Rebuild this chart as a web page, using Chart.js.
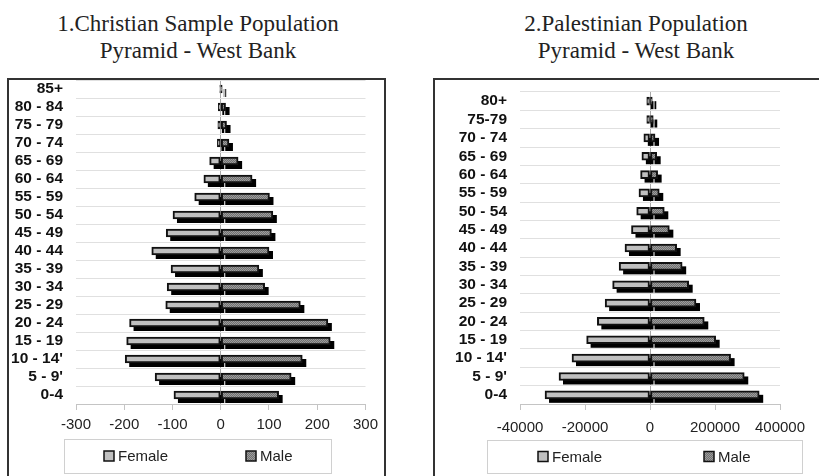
<!DOCTYPE html>
<html>
<head>
<meta charset="utf-8">
<script src="https://cdn.jsdelivr.net/npm/chart.js@4.4.0/dist/chart.umd.min.js"></script>
<style>
body { margin: 0; background: #fff; }
#page { position: relative; width: 819px; height: 476px; overflow: hidden; }
.title { position: absolute; top: 10px; width: 400px; text-align: center; font: 23px/27px "Liberation Serif", serif; color: #222; }
.box { position: absolute; top: 78px; height: 420px; border: 2px solid #333; }
canvas { position: absolute; }
</style>
</head>
<body>
<div id="page">
  <div class="title" style="left:-2px">1.Christian Sample Population<br>Pyramid - West Bank</div>
  <div class="title" style="left:436px">2.Palestinian Population<br>Pyramid - West Bank</div>
  <div class="box" style="left:7px; width:375px"></div>
  <div class="box" style="left:433px; width:420px"></div>
  <canvas id="chart1" width="375" height="396" style="left:9px; top:80px"></canvas>
  <canvas id="chart2" width="384" height="396" style="left:435px; top:80px"></canvas>
</div>
<script>
// Christian sample, counts per age group (top row = oldest)
const ageGroups1 = ['85+', '80 - 84', '75 - 79', '70 - 74', '65 - 69', '60 - 64', '55 - 59', '50 - 54', '45 - 49',
    '40 - 44', '35 - 39', '30 - 34', '25 - 29', '20 - 24', '15 - 19', "10 - 14'", "5 - 9'", '0-4'];
const female1 = [2, 5, 6, 7, 23, 35, 54, 99, 113, 143, 103, 111, 114, 189, 195, 198, 136, 97];
const male1 = [3, 10, 12, 17, 36, 65, 101, 108, 105, 100, 79, 91, 165, 222, 227, 169, 146, 120];

// Palestinian population, West Bank
const ageGroups2 = ['80+', '75-79', '70 - 74', '65 - 69', '60 - 64', '55 - 59', '50 - 54', '45 - 49', '40 - 44',
    '35 - 39', '30 - 34', '25 - 29', '20 - 24', '15 - 19', "10 - 14'", "5 - 9'", '0-4'];
const female2 = [10000, 10000, 19000, 25000, 29000, 34000, 41000, 57000, 77000, 95000, 115000, 138000, 162000, 195000, 240000, 280000, 323000];
const male2 = [7000, 10000, 15500, 20500, 23500, 28500, 44000, 59500, 82000, 99000, 119000, 141500, 167000, 202000, 248000, 290000, 336000];

// the second chart's axis was labelled this way in the source
const xTickLabels2 = ['-40000', '-20000', '0', '200000', '400000'];

const FEMALE_FILL = '#c0c0c0';

function makeHatch(ctx) {
    const c = document.createElement('canvas');
    c.width = 2;
    c.height = 2;
    const g = c.getContext('2d');
    g.fillStyle = '#9c9c9c';
    g.fillRect(0, 0, 2, 2);
    g.fillStyle = '#707070';
    g.fillRect(0, 0, 1, 1);
    g.fillRect(1, 1, 1, 1);
    return ctx.createPattern(c, 'repeat');
}

// black offset block under each bar (the old 3D look)
const barShadow = {
    id: 'barShadow',
    beforeDatasetsDraw(chart) {
        const ctx = chart.ctx;
        ctx.save();
        ctx.fillStyle = '#000';
        chart.data.datasets.forEach((ds, i) => {
            for (const bar of chart.getDatasetMeta(i).data) {
                const p = bar.getProps(['x', 'y', 'base', 'height'], true);
                const left = Math.min(p.x, p.base);
                const w = Math.abs(p.x - p.base);
                ctx.fillRect(left + 4, p.y - p.height / 2 + 4, w, p.height);
            }
        });
        ctx.restore();
    }
};

// framed legend under the axis
const boxLegend = {
    id: 'boxLegend',
    afterDraw(chart, args, opts) {
        const ctx = chart.ctx;
        const [bx, by, bw, bh] = opts.box;
        ctx.save();
        ctx.strokeStyle = '#d0d0d0';
        ctx.lineWidth = 1;
        ctx.strokeRect(bx + 0.5, by + 0.5, bw, bh);
        const cy = by + bh / 2;
        opts.items.forEach((it, i) => {
            const ds = chart.data.datasets[i];
            ctx.fillStyle = ds.backgroundColor;
            ctx.fillRect(it.x, cy - 5, 10, 10);
            ctx.strokeStyle = '#111';
            ctx.lineWidth = 1.5;
            ctx.strokeRect(it.x, cy - 5, 10, 10);
            ctx.fillStyle = '#222';
            ctx.font = '15px "Liberation Sans", Arial, sans-serif';
            ctx.textBaseline = 'middle';
            ctx.fillText(ds.label, it.x + 14, cy + 1);
        });
        ctx.restore();
    }
};

function makePyramid(canvasId, labels, female, male, cfg) {
    const ctx = document.getElementById(canvasId).getContext('2d');
    return new Chart(ctx, {
        type: 'bar',
        data: {
            labels: labels,
            datasets: [
                {
                    label: 'Female',
                    data: female.map(v => -v),
                    backgroundColor: FEMALE_FILL,
                    borderColor: '#111',
                    borderWidth: 2,
                    borderSkipped: false,
                    barThickness: 8
                },
                {
                    label: 'Male',
                    data: male,
                    backgroundColor: makeHatch(ctx),
                    borderColor: '#111',
                    borderWidth: 2,
                    borderSkipped: false,
                    barThickness: 8
                }
            ]
        },
        options: {
            indexAxis: 'y',
            responsive: false,
            animation: false,
            devicePixelRatio: 1,
            layout: { padding: cfg.padding },
            scales: {
                x: {
                    stacked: true,
                    min: cfg.min,
                    max: cfg.max,
                    afterFit: (scale) => { scale.height = 72; },
                    ticks: {
                        stepSize: cfg.step,
                        autoSkip: false,
                        maxRotation: 0,
                        padding: cfg.tickPad,
                        color: '#222',
                        font: { family: '"Liberation Sans", Arial, sans-serif', size: 15 },
                        callback: cfg.tickLabel
                    },
                    grid: {
                        color: (c) => (c.tick && c.tick.value === 0) ? '#a8a8a8' : 'rgba(0,0,0,0)',
                        tickColor: '#c4c4c4',
                        tickLength: 6
                    },
                    border: { display: true, color: '#c4c4c4' }
                },
                y: {
                    stacked: true,
                    afterFit: (scale) => {
                        scale.width = cfg.yWidth;
                        // keep the label gap from pushing the plot down
                        scale.paddingTop = 0;
                        scale.paddingBottom = 0;
                    },
                    ticks: {
                        autoSkip: false,
                        padding: 13,
                        color: '#111',
                        font: { family: '"Liberation Sans", Arial, sans-serif', size: 15.5, weight: 'bold' }
                    },
                    grid: { color: '#e0e0e0', drawTicks: false },
                    border: { display: false }
                }
            },
            plugins: {
                legend: { display: false },
                tooltip: { enabled: false },
                boxLegend: cfg.legend
            }
        },
        plugins: [barShadow, boxLegend]
    });
}

makePyramid('chart1', ageGroups1, female1, male1, {
    min: -300, max: 300, step: 100,
    padding: { top: 0, right: 17, bottom: 0, left: 0 },
    yWidth: 67,
    tickPad: 6,
    legend: { box: [55, 359, 267, 34], items: [{ x: 95 }, { x: 237 }] }
});

makePyramid('chart2', ageGroups2, female2, male2, {
    min: -400000, max: 400000, step: 200000,
    padding: { top: 12, right: 39, bottom: 0, left: 0 },
    yWidth: 85,
    tickPad: 9,
    tickLabel: (value, index) => xTickLabels2[index],
    legend: { box: [52, 360, 315, 33], items: [{ x: 103 }, { x: 269 }] }
});
</script>
</body>
</html>
